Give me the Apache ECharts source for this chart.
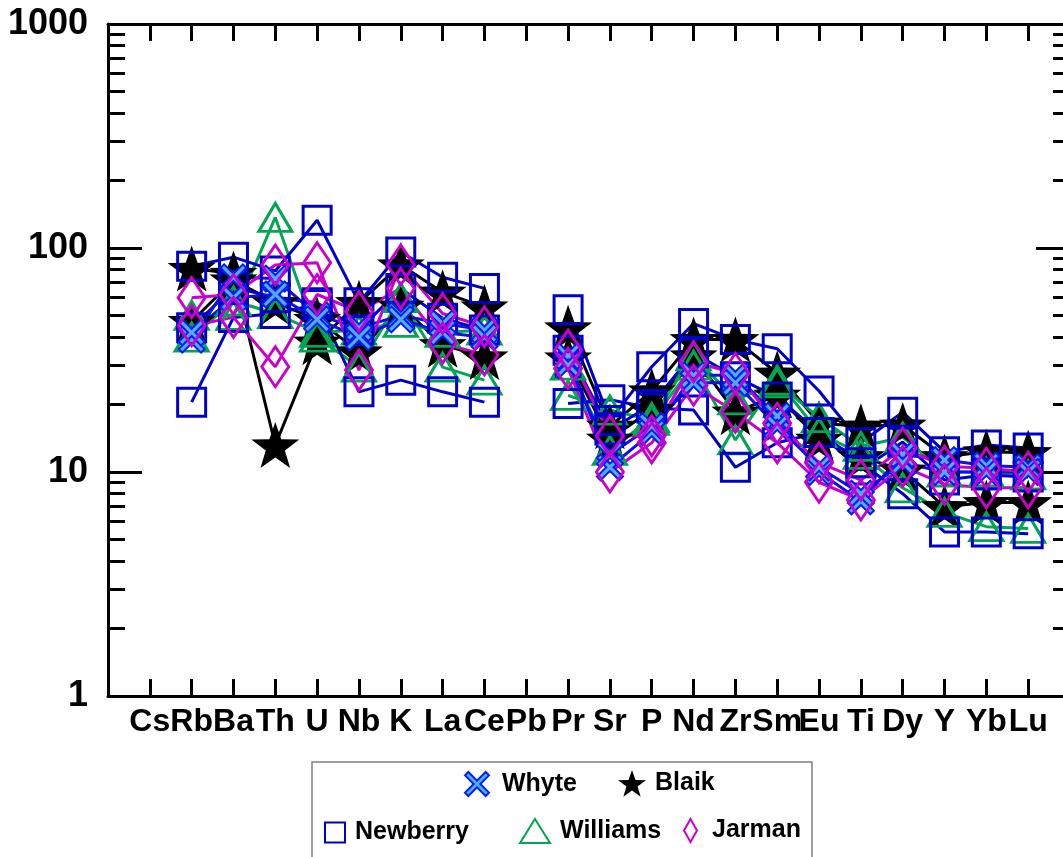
<!DOCTYPE html>
<html>
<head>
<meta charset="utf-8">
<script src="https://cdn.jsdelivr.net/npm/echarts@6/dist/echarts.min.js"></script>
<style>
  html, body { margin: 0; padding: 0; background: #fff; overflow: hidden; }
  #chart { width: 1063px; height: 857px; }
</style>
</head>
<body>
<div id="chart"></div>
<script>
// Element order of the normalised multi-element (spider) diagram
const ELEMENTS = ['Cs','Rb','Ba','Th','U','Nb','K','La','Ce','Pb','Pr','Sr','P','Nd','Zr','Sm','Eu','Ti','Dy','Y','Yb','Lu'];

// Normalised concentrations, one array per sample (null = not analysed)
//                  Cs    Rb   Ba   Th    U    Nb    K    La    Ce   Pb    Pr   Sr    P     Nd   Zr    Sm    Eu    Ti    Dy    Y     Yb    Lu
const BLAIK_1    = [null, 81,  77,  13.2, 38,  57,   84,  63.5, 54.5, null, 44,  16,   23,   39,  39,   27.6, 16.5, 16,   16.2, 11.7, 12.3, 12.2];
const BLAIK_2    = [null, 47,  72,  57,   48,  34.4, 55,  37,   32.6, null, 32.3, 14,  19,   33,  18.5, 22,   14,   11.7, 10.2, 7.0,  7.3,  7.3];

const WILLIAMS_1 = [null, 50,  50,  137,  40,  29.4, 60,  29.4, 25.7, null, 22,  18.9, 17,   30,  13.9, 25.7, 15,   12,   8.5,  6.6,  5.7,  5.6];
const WILLIAMS_2 = [null, 40,  58,  51,   42,  43,   46.6, 42,  43,   null, 30,  12.5, 17.5, 33,  21,   25,   17.5, 13,   14.3, 10,   10,   9.7];

const NEWBERRY_1 = [null, 83,  91,  79,   133, 57,   96,  74,   66,   null, 53,  17,   29.5, 46,  39,   35.5, 23,   13.5, 18.5, 12.3, 13.2, 12.8];
const NEWBERRY_2 = [null, 44,  67,  60,   57,  43,   66,  48.6, 43,   null, 35,  15.4, 20,   34,  26.6, 21.6, 15,   10.2, 13.6, 9.2,  9.7,  9.5];
const NEWBERRY_3 = [null, 20.5, 49, 51,   56,  22.8, 25.7, 22.8, 20.5, null, 20.2, 21,  19.3, 18.9, 10.5, 13.5, 15,  11,   8,    5.4,  5.4,  5.3];

const WHYTE_1    = [null, 39,  74,  73,   50,  44,   50,  46,   43,   null, 33,  10.5, 15,   27,  27,   17.8, 10,   7.4,  12,   11.3, 10.7, 10.5];
const WHYTE_2    = [null, 42,  60,  62,   48,  40,   48,  42,   40,   null, 30,  12,   16,   25,  25,   16,   10.5, 8,    11,   10,   10,   10];

const JARMAN_1   = [null, 60,  62,  84,   86,  28.5, 84,  51,   44.5, null, 35,  14.5, 14.5, 31,  27.6, 16.5, 11,   9.2,  12.8, 10.6, 10.4, 10];
const JARMAN_2   = [null, 45,  49,  29.5, 62,  52,   66,  37.6, 33.3, null, 29,  10,   13.5, 24.4, 18.5, 13.5, 9,   7.5,  10.6, 8.8,  8.5,  8.5];

// Log-axis tick values
const Y_MAJOR = [1, 10, 100, 1000];
const Y_MINOR = [2,3,4,5,6,7,8,9,20,30,40,50,60,70,80,90,200,300,400,500,600,700,800,900];

// Marker shapes
const STAR = 'path://M100,0 L123.5,67.6 L195.1,69.1 L138,112.4 L158.8,180.9 L100,140 L41.2,180.9 L62,112.4 L4.9,69.1 L76.5,67.6 Z';
const CROSS = 'path://M0,14 L14,0 L50,36 L86,0 L100,14 L64,50 L100,86 L86,100 L50,64 L14,100 L0,86 L36,50 Z';

const FONT = '"Liberation Sans", Arial, Helvetica, sans-serif';
const HOLLOW = 'rgba(0,0,0,0)';

const GROUPS = {
  Blaik:    { symbol: STAR,       size: [48, 46], line: '#000000', item: { color: '#000000', borderWidth: 0 } },
  Williams: { symbol: 'triangle', size: [33, 28], line: '#00A651', item: { color: HOLLOW, borderColor: '#00A651', borderWidth: 3 } },
  Newberry: { symbol: 'rect',     size: [28, 28], line: '#0000CC', item: { color: HOLLOW, borderColor: '#0000CC', borderWidth: 3 } },
  Whyte:    { symbol: CROSS,      size: [26, 26], line: '#1010E6', item: { color: '#55AAFF', borderColor: '#0020F0', borderWidth: 2 } },
  Jarman:   { symbol: 'diamond',  size: [27, 40], line: '#CC00CC', item: { color: HOLLOW, borderColor: '#CC00CC', borderWidth: 3 } }
};

const SAMPLES = [
  ['Blaik', BLAIK_1], ['Blaik', BLAIK_2],
  ['Williams', WILLIAMS_1], ['Williams', WILLIAMS_2],
  ['Newberry', NEWBERRY_1], ['Newberry', NEWBERRY_2], ['Newberry', NEWBERRY_3],
  ['Whyte', WHYTE_1], ['Whyte', WHYTE_2],
  ['Jarman', JARMAN_1], ['Jarman', JARMAN_2]
];

// Blank categories at both ends give the half-step margins of the frame
const CATEGORIES = [''].concat(ELEMENTS, ['']);

const series = SAMPLES.map(([group, values]) => {
  const g = GROUPS[group];
  return {
    name: group,
    type: 'line',
    xAxisIndex: 0,
    yAxisIndex: 0,
    data: [null].concat(values, [null]),
    symbol: g.symbol,
    symbolSize: g.size,
    showAllSymbol: true,
    connectNulls: false,
    lineStyle: { color: g.line, width: 3 },
    itemStyle: g.item,
    emphasis: { disabled: true },
    animation: false
  };
});

const legendText = (pad) => ({ fontFamily: FONT, fontSize: 25, fontWeight: 'bold', color: '#000', padding: [0, 0, 0, pad] });
const legendItem = (name, icon, w, h, left, top, pad) => ({
  data: [{ name: name, icon: icon, itemStyle: Object.assign({}, GROUPS[name].item, GROUPS[name].item.borderWidth ? { borderWidth: 2 } : {}) }],
  left: left, top: top, padding: 0,
  itemWidth: w, itemHeight: h,
  selectedMode: false,
  textStyle: legendText(pad)
});

const xTick = { show: true, inside: true, length: 17, interval: 0, lineStyle: { color: '#000', width: 3 } };
const axisLine = { show: true, onZero: false, lineStyle: { color: '#000', width: 3 } };

const yAxisBase = (position, values, len, showLine, showLabel) => ({
  type: 'log', logBase: 10, min: 1, max: 1000,
  position: position,
  axisLine: showLine ? axisLine : { show: false },
  axisTick: { show: true, inside: true, length: len, customValues: values, lineStyle: { color: '#000', width: 3 } },
  axisLabel: showLabel ? {
    show: true, customValues: Y_MAJOR, margin: 20,
    formatter: (v) => String(Math.round(v)),
    fontFamily: FONT, fontSize: 36, fontWeight: 'bold', color: '#000'
  } : { show: false },
  splitLine: { show: false },
  minorTick: { show: false }
});

const chart = echarts.init(document.getElementById('chart'), null, { renderer: 'canvas' });
chart.setOption({
  animation: false,
  backgroundColor: '#ffffff',
  grid: { left: 108, right: -7, top: 24, bottom: 161, containLabel: false, outerBoundsMode: 'none' },
  xAxis: [
    {
      type: 'category', data: CATEGORIES, boundaryGap: false, position: 'bottom',
      axisLine: axisLine, axisTick: xTick,
      axisLabel: { show: true, interval: 0, margin: 10, fontFamily: FONT, fontSize: 32, fontWeight: 'bold', color: '#000' },
      splitLine: { show: false }
    },
    {
      type: 'category', data: CATEGORIES, boundaryGap: false, position: 'top',
      axisLine: axisLine, axisTick: xTick,
      axisLabel: { show: false }, splitLine: { show: false }
    }
  ],
  yAxis: [
    yAxisBase('left', Y_MAJOR, 34, true, true),
    yAxisBase('left', Y_MINOR, 17, false, false),
    yAxisBase('right', Y_MAJOR, 34, true, false),
    yAxisBase('right', Y_MINOR, 17, false, false)
  ],
  legend: [
    legendItem('Whyte',    CROSS,      26, 24, 464, 771, 7),
    legendItem('Blaik',    STAR,       28, 27, 618, 770, 4),
    legendItem('Newberry', 'rect',     20, 20, 324, 820, 5),
    legendItem('Williams', 'triangle', 30, 24, 519, 818, 5),
    legendItem('Jarman',   'diamond',  13, 23, 683, 818, 10)
  ],
  graphic: [{
    type: 'rect', silent: true, z: -1,
    shape: { x: 312, y: 762, width: 500, height: 120 },
    style: { fill: 'none', stroke: '#808080', lineWidth: 1.5 }
  }],
  series: series
});
</script>
</body>
</html>
